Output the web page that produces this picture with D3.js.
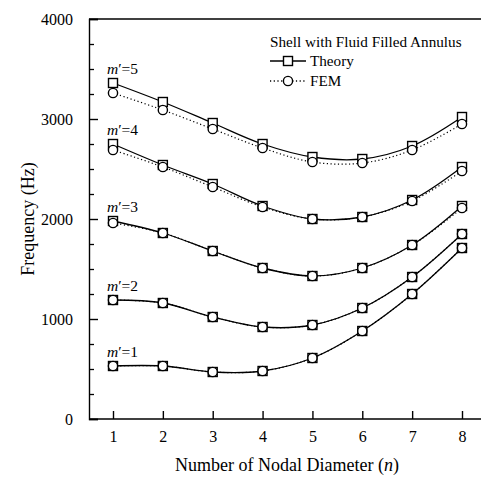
<!DOCTYPE html>
<html>
<head>
<meta charset="utf-8">
<script src="https://cdn.jsdelivr.net/npm/d3@7"></script>
<style>
  body { margin: 0; background: #fff; }
  svg { display: block; font-family: "Liberation Serif", "Times New Roman", serif; }
</style>
</head>
<body>
<svg id="chart" width="483" height="477"></svg>
<script>
const nodal = [1, 2, 3, 4, 5, 6, 7, 8];
const modes = ["1", "2", "3", "4", "5"];
// theory values per circumferential mode m'
const theory1 = [530, 530, 470, 480, 610, 880, 1250, 1710];
const theory2 = [1190, 1160, 1020, 920, 940, 1110, 1420, 1850];
const theory3 = [1980, 1860, 1680, 1510, 1430, 1510, 1740, 2130];
const theory4 = [2750, 2540, 2350, 2130, 2000, 2020, 2190, 2520];
const theory5 = [3360, 3170, 2960, 2750, 2620, 2600, 2730, 3020];
// FEM values
const fem1 = [530, 530, 470, 480, 610, 880, 1250, 1710];
const fem2 = [1190, 1160, 1020, 920, 940, 1110, 1420, 1850];
const fem3 = [1960, 1860, 1680, 1510, 1430, 1510, 1740, 2110];
const fem4 = [2690, 2520, 2320, 2120, 2000, 2020, 2180, 2480];
const fem5 = [3260, 3090, 2900, 2710, 2570, 2560, 2690, 2950];
const yTicks = [0, 1000, 2000, 3000, 4000];
const legendTitle = "Shell with Fluid Filled Annulus";
const seriesNames = ["Theory", "FEM"];

const theory = [theory1, theory2, theory3, theory4, theory5];
const fem = [fem1, fem2, fem3, fem4, fem5];

const svg = d3.select('#chart');
const mLeft = 89, mRight = 481, mTop = 19, mBottom = 419;

const x = d3.scaleLinear().domain([1, 8]).range([113, 462]);
const y = d3.scaleLinear().domain([0, 4000]).range([mBottom, mTop]);

// top frame line
svg.append('line').attr('x1', mLeft).attr('x2', mRight).attr('y1', mTop).attr('y2', mTop)
  .attr('stroke', '#000').attr('stroke-width', 1.4);

// y axis
const yAxis = d3.axisLeft(y).tickValues(yTicks).tickSize(-9).tickPadding(16).tickFormat(d3.format('d'));
const gy = svg.append('g').attr('transform', `translate(${mLeft},0)`).call(yAxis);
gy.select('.domain').attr('stroke-width', 1.4);
gy.selectAll('.tick line').attr('stroke-width', 1.4);
gy.selectAll('text').attr('font-size', 16).attr('fill', '#000').attr('font-family', 'Liberation Serif');
const gyMinor = svg.append('g').attr('transform', `translate(${mLeft},0)`)
  .call(d3.axisLeft(y).tickValues(d3.range(250, 4000, 250).filter(v => v % 1000 !== 0)).tickSize(-5).tickFormat(''));
gyMinor.select('.domain').remove();
gyMinor.selectAll('.tick line').attr('stroke-width', 1.3);

// x axis
const xAxis = d3.axisBottom(x).tickValues(nodal).tickSize(-8).tickPadding(12).tickFormat(d3.format('d'));
const gx = svg.append('g').attr('transform', `translate(0,${mBottom})`).call(xAxis);
gx.select('.domain').attr('d', `M${mLeft},0H${mRight}`).attr('stroke-width', 1.4);
gx.selectAll('.tick line').attr('stroke-width', 1.4);
gx.selectAll('text').attr('font-size', 16).attr('fill', '#000').attr('font-family', 'Liberation Serif');

// axis titles
svg.append('text')
  .attr('transform', `translate(34,${(mTop + mBottom) / 2}) rotate(-90)`)
  .attr('text-anchor', 'middle').attr('font-size', 18).text('Frequency (Hz)');
const xt = svg.append('text').attr('x', 287).attr('y', 471).attr('text-anchor', 'middle').attr('font-size', 18);
xt.append('tspan').text('Number of Nodal Diameter (');
xt.append('tspan').attr('font-style', 'italic').text('n');
xt.append('tspan').text(')');

const line = d3.line().x((d, i) => x(nodal[i])).y(d => y(d)).curve(d3.curveCatmullRom.alpha(0.5));

// FEM dotted lines
svg.append('g').selectAll('path').data(fem).join('path')
  .attr('d', line).attr('fill', 'none').attr('stroke', '#000')
  .attr('stroke-width', 1.2).attr('stroke-dasharray', '1.2,2.5');
// theory solid lines
svg.append('g').selectAll('path').data(theory).join('path')
  .attr('d', line).attr('fill', 'none').attr('stroke', '#000').attr('stroke-width', 1.3);

const sq = 9;
theory.forEach(vals => {
  svg.append('g').selectAll('rect').data(vals).join('rect')
    .attr('x', (d, i) => x(nodal[i]) - sq / 2).attr('y', d => y(d) - sq / 2)
    .attr('width', sq).attr('height', sq)
    .attr('fill', '#fff').attr('stroke', '#000').attr('stroke-width', 1.4);
});
fem.forEach(vals => {
  svg.append('g').selectAll('circle').data(vals).join('circle')
    .attr('cx', (d, i) => x(nodal[i])).attr('cy', d => y(d)).attr('r', 4.6)
    .attr('fill', '#fff').attr('stroke', '#000').attr('stroke-width', 1.4);
});

// mode labels
modes.forEach((m, k) => {
  const t = svg.append('text').attr('x', 107).attr('y', y(theory[k][0]) - 9).attr('font-size', 15.5);
  t.append('tspan').attr('font-style', 'italic').text('m');
  t.append('tspan').text('\u2032=' + m);
});

// legend
const lg = svg.append('g');
lg.append('text').attr('x', 270).attr('y', 47).attr('font-size', 15.2).text(legendTitle);
[0, 1].forEach(i => {
  const ly = 61 + i * 20;
  lg.append('line').attr('x1', 270).attr('x2', 306).attr('y1', ly).attr('y2', ly)
    .attr('stroke', '#000').attr('stroke-width', 1.3)
    .attr('stroke-dasharray', i === 1 ? '1.2,2.5' : null);
  if (i === 0) {
    lg.append('rect').attr('x', 288 - sq / 2).attr('y', ly - sq / 2).attr('width', sq).attr('height', sq)
      .attr('fill', '#fff').attr('stroke', '#000').attr('stroke-width', 1.4);
  } else {
    lg.append('circle').attr('cx', 288).attr('cy', ly).attr('r', 4.6)
      .attr('fill', '#fff').attr('stroke', '#000').attr('stroke-width', 1.4);
  }
  lg.append('text').attr('x', 310).attr('y', ly + 5).attr('font-size', 15.2).text(seriesNames[i]);
});
</script>
</body>
</html>
